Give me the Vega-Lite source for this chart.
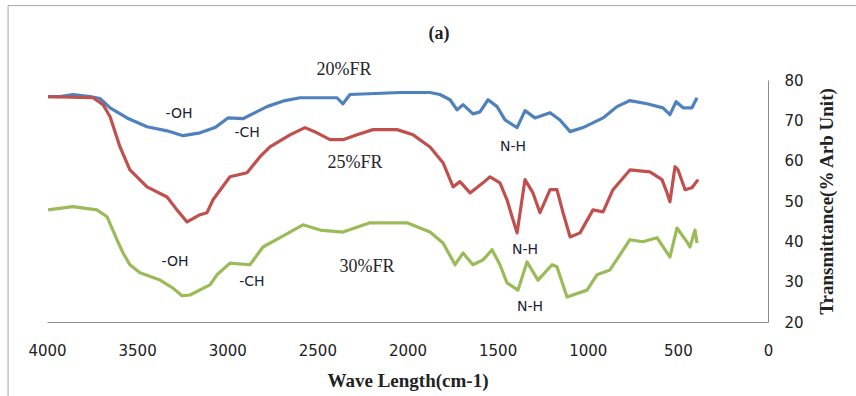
{
  "$schema": "https://vega.github.io/schema/vega-lite/v6.json",
  "autosize": "none",
  "width": 721,
  "height": 242,
  "padding": {"left": 47, "top": 80, "right": 88, "bottom": 74},
  "background": "white",
  "config": {"view": {"stroke": null}},
  "datasets": {
    "spectra": [
      {"s":"20%FR","w":3994,"v":75.9},{"s":"20%FR","w":3928,"v":75.9},{"s":"20%FR","w":3856,"v":76.4},{"s":"20%FR","w":3761,"v":75.9},{"s":"20%FR","w":3706,"v":75.4},{"s":"20%FR","w":3650,"v":73.1},{"s":"20%FR","w":3556,"v":70.6},{"s":"20%FR","w":3445,"v":68.4},{"s":"20%FR","w":3334,"v":67.4},{"s":"20%FR","w":3245,"v":66.2},{"s":"20%FR","w":3151,"v":66.9},{"s":"20%FR","w":3068,"v":68.2},{"s":"20%FR","w":2996,"v":70.6},{"s":"20%FR","w":2913,"v":70.4},{"s":"20%FR","w":2846,"v":71.9},{"s":"20%FR","w":2780,"v":73.4},{"s":"20%FR","w":2680,"v":74.9},{"s":"20%FR","w":2596,"v":75.6},{"s":"20%FR","w":2391,"v":75.6},{"s":"20%FR","w":2358,"v":74.1},{"s":"20%FR","w":2319,"v":76.4},{"s":"20%FR","w":2041,"v":76.9},{"s":"20%FR","w":1875,"v":76.9},{"s":"20%FR","w":1820,"v":76.4},{"s":"20%FR","w":1764,"v":75.1},{"s":"20%FR","w":1725,"v":72.6},{"s":"20%FR","w":1692,"v":73.9},{"s":"20%FR","w":1637,"v":71.6},{"s":"20%FR","w":1598,"v":72.1},{"s":"20%FR","w":1553,"v":75.1},{"s":"20%FR","w":1503,"v":73.4},{"s":"20%FR","w":1459,"v":70.1},{"s":"20%FR","w":1392,"v":68.2},{"s":"20%FR","w":1348,"v":72.4},{"s":"20%FR","w":1293,"v":70.6},{"s":"20%FR","w":1209,"v":71.9},{"s":"20%FR","w":1154,"v":70.1},{"s":"20%FR","w":1098,"v":67.2},{"s":"20%FR","w":1026,"v":68.2},{"s":"20%FR","w":915,"v":70.6},{"s":"20%FR","w":838,"v":73.4},{"s":"20%FR","w":766,"v":74.9},{"s":"20%FR","w":671,"v":74.1},{"s":"20%FR","w":583,"v":73.1},{"s":"20%FR","w":544,"v":71.4},{"s":"20%FR","w":510,"v":74.6},{"s":"20%FR","w":471,"v":73.1},{"s":"20%FR","w":422,"v":73.1},{"s":"20%FR","w":394,"v":75.6},
      {"s":"25%FR","w":3994,"v":75.9},{"s":"25%FR","w":3745,"v":75.6},{"s":"25%FR","w":3689,"v":73.9},{"s":"25%FR","w":3650,"v":70.9},{"s":"25%FR","w":3595,"v":63.4},{"s":"25%FR","w":3540,"v":57.7},{"s":"25%FR","w":3445,"v":53.5},{"s":"25%FR","w":3334,"v":51.0},{"s":"25%FR","w":3279,"v":47.8},{"s":"25%FR","w":3223,"v":44.8},{"s":"25%FR","w":3151,"v":46.6},{"s":"25%FR","w":3112,"v":47.1},{"s":"25%FR","w":3079,"v":50.3},{"s":"25%FR","w":2985,"v":56.0},{"s":"25%FR","w":2890,"v":57.0},{"s":"25%FR","w":2818,"v":61.0},{"s":"25%FR","w":2763,"v":63.4},{"s":"25%FR","w":2652,"v":66.4},{"s":"25%FR","w":2569,"v":68.2},{"s":"25%FR","w":2502,"v":66.9},{"s":"25%FR","w":2430,"v":65.2},{"s":"25%FR","w":2358,"v":65.2},{"s":"25%FR","w":2280,"v":66.4},{"s":"25%FR","w":2191,"v":67.7},{"s":"25%FR","w":2058,"v":67.7},{"s":"25%FR","w":1969,"v":66.4},{"s":"25%FR","w":1875,"v":63.4},{"s":"25%FR","w":1803,"v":59.5},{"s":"25%FR","w":1747,"v":53.5},{"s":"25%FR","w":1709,"v":54.8},{"s":"25%FR","w":1653,"v":52.0},{"s":"25%FR","w":1581,"v":54.5},{"s":"25%FR","w":1542,"v":56.0},{"s":"25%FR","w":1487,"v":54.5},{"s":"25%FR","w":1448,"v":50.3},{"s":"25%FR","w":1420,"v":46.1},{"s":"25%FR","w":1392,"v":42.1},{"s":"25%FR","w":1365,"v":50.3},{"s":"25%FR","w":1348,"v":55.3},{"s":"25%FR","w":1304,"v":52.0},{"s":"25%FR","w":1265,"v":47.1},{"s":"25%FR","w":1209,"v":52.8},{"s":"25%FR","w":1171,"v":52.8},{"s":"25%FR","w":1137,"v":47.1},{"s":"25%FR","w":1098,"v":41.1},{"s":"25%FR","w":1043,"v":42.1},{"s":"25%FR","w":971,"v":47.8},{"s":"25%FR","w":915,"v":47.3},{"s":"25%FR","w":860,"v":52.8},{"s":"25%FR","w":766,"v":57.7},{"s":"25%FR","w":655,"v":57.2},{"s":"25%FR","w":588,"v":55.3},{"s":"25%FR","w":560,"v":52.0},{"s":"25%FR","w":544,"v":49.8},{"s":"25%FR","w":516,"v":58.5},{"s":"25%FR","w":499,"v":57.7},{"s":"25%FR","w":460,"v":52.8},{"s":"25%FR","w":422,"v":53.3},{"s":"25%FR","w":388,"v":55.3},
      {"s":"30%FR","w":3994,"v":47.8},{"s":"30%FR","w":3856,"v":48.6},{"s":"30%FR","w":3723,"v":47.8},{"s":"30%FR","w":3667,"v":46.1},{"s":"30%FR","w":3612,"v":40.4},{"s":"30%FR","w":3578,"v":37.1},{"s":"30%FR","w":3540,"v":34.2},{"s":"30%FR","w":3484,"v":32.2},{"s":"30%FR","w":3373,"v":30.4},{"s":"30%FR","w":3301,"v":28.4},{"s":"30%FR","w":3251,"v":26.5},{"s":"30%FR","w":3207,"v":26.7},{"s":"30%FR","w":3096,"v":29.2},{"s":"30%FR","w":3057,"v":31.7},{"s":"30%FR","w":2985,"v":34.6},{"s":"30%FR","w":2874,"v":34.2},{"s":"30%FR","w":2802,"v":38.6},{"s":"30%FR","w":2707,"v":40.9},{"s":"30%FR","w":2580,"v":44.1},{"s":"30%FR","w":2485,"v":42.8},{"s":"30%FR","w":2358,"v":42.3},{"s":"30%FR","w":2208,"v":44.6},{"s":"30%FR","w":2003,"v":44.6},{"s":"30%FR","w":1875,"v":42.3},{"s":"30%FR","w":1803,"v":39.6},{"s":"30%FR","w":1736,"v":34.2},{"s":"30%FR","w":1692,"v":37.1},{"s":"30%FR","w":1637,"v":34.2},{"s":"30%FR","w":1581,"v":35.4},{"s":"30%FR","w":1531,"v":37.9},{"s":"30%FR","w":1487,"v":34.2},{"s":"30%FR","w":1448,"v":29.7},{"s":"30%FR","w":1387,"v":27.9},{"s":"30%FR","w":1337,"v":34.9},{"s":"30%FR","w":1276,"v":30.4},{"s":"30%FR","w":1198,"v":34.2},{"s":"30%FR","w":1171,"v":33.7},{"s":"30%FR","w":1115,"v":26.2},{"s":"30%FR","w":1004,"v":27.9},{"s":"30%FR","w":949,"v":31.7},{"s":"30%FR","w":877,"v":32.9},{"s":"30%FR","w":766,"v":40.4},{"s":"30%FR","w":694,"v":39.9},{"s":"30%FR","w":616,"v":40.9},{"s":"30%FR","w":544,"v":36.1},{"s":"30%FR","w":505,"v":43.3},{"s":"30%FR","w":450,"v":39.9},{"s":"30%FR","w":433,"v":38.6},{"s":"30%FR","w":405,"v":42.8},{"s":"30%FR","w":394,"v":39.6}
    ],
    "serifLabels": [
      {"t":"20%FR","w":2352,"v":82.6},{"t":"25%FR","w":2291,"v":59.5},{"t":"30%FR","w":2225,"v":33.7}
    ],
    "sansLabels": [
      {"t":"-OH","w":3268,"v":71.6},{"t":"-CH","w":2890,"v":66.9},{"t":"N-H","w":1415,"v":63.4},{"t":"N-H","w":1348,"v":37.9},{"t":"N-H","w":1320,"v":23.7},{"t":"-OH","w":3290,"v":34.9},{"t":"-CH","w":2863,"v":29.9}
    ],
    "panelLabel": [
      {"t":"(a)","w":1825,"v":91.5}
    ]
  },
  "layer": [
    {
      "data": {"name": "spectra"},
      "mark": {"type": "line", "strokeWidth": 3.2, "strokeJoin": "round"},
      "encoding": {
        "x": {"field": "w", "type": "quantitative",
          "scale": {"domain": [0, 4000], "reverse": true, "nice": false, "zero": false},
          "axis": {"orient": "bottom", "values": [4000, 3500, 3000, 2500, 2000, 1500, 1000, 500, 0], "format": "d",
            "domainColor": "#8c8c8c", "ticks": false, "tickSize": 0, "grid": false,
            "labelFont": "DejaVu Sans", "labelFontSize": 15, "labelColor": "#222222", "labelPadding": 21,
            "labelFlush": false, "labelOverlap": false,
            "title": "Wave Length(cm-1)", "titleFont": "Liberation Serif", "titleFontSize": 19, "titleFontWeight": "bold", "titleColor": "#222222", "titlePadding": 13}},
        "y": {"field": "v", "type": "quantitative",
          "scale": {"domain": [20, 80], "nice": false, "zero": false},
          "axis": {"orient": "right", "values": [20, 30, 40, 50, 60, 70, 80],
            "domainColor": "#8c8c8c", "ticks": false, "tickSize": 0, "grid": false,
            "labelFont": "DejaVu Sans", "labelFontSize": 15, "labelColor": "#222222", "labelPadding": 16,
            "labelFlush": false, "labelOverlap": false,
            "title": "Transmittance(% Arb Unit)", "titleFont": "Liberation Serif", "titleFontSize": 19, "titleFontWeight": "bold", "titleColor": "#222222", "titleAngle": 270, "titlePadding": 33}},
        "color": {"field": "s", "type": "nominal",
          "scale": {"domain": ["20%FR", "25%FR", "30%FR"], "range": ["#4F81BD", "#C0504D", "#9BBB59"]},
          "legend": null}
      }
    },
    {
      "data": {"name": "serifLabels"},
      "mark": {"type": "text", "font": "Liberation Serif", "fontSize": 18, "color": "#262626", "align": "center", "baseline": "middle"},
      "encoding": {
        "x": {"field": "w", "type": "quantitative"},
        "y": {"field": "v", "type": "quantitative"},
        "text": {"field": "t"}
      }
    },
    {
      "data": {"name": "sansLabels"},
      "mark": {"type": "text", "font": "DejaVu Sans", "fontSize": 14, "color": "#1c2233", "align": "center", "baseline": "middle"},
      "encoding": {
        "x": {"field": "w", "type": "quantitative"},
        "y": {"field": "v", "type": "quantitative"},
        "text": {"field": "t"}
      }
    },
    {
      "data": {"name": "panelLabel"},
      "mark": {"type": "text", "font": "Liberation Serif", "fontSize": 18, "fontWeight": "bold", "color": "#222222", "align": "center", "baseline": "middle"},
      "encoding": {
        "x": {"field": "w", "type": "quantitative"},
        "y": {"field": "v", "type": "quantitative"},
        "text": {"field": "t"}
      }
    },
    {
      "data": {"values": [{}]},
      "mark": {"type": "rect", "fill": "transparent", "stroke": "#a6a6a6", "strokeWidth": 1},
      "encoding": {
        "x": {"datum": 4216},
        "x2": {"datum": -1000},
        "y": {"datum": 98.45},
        "y2": {"datum": -30}
      }
    }
  ]
}
